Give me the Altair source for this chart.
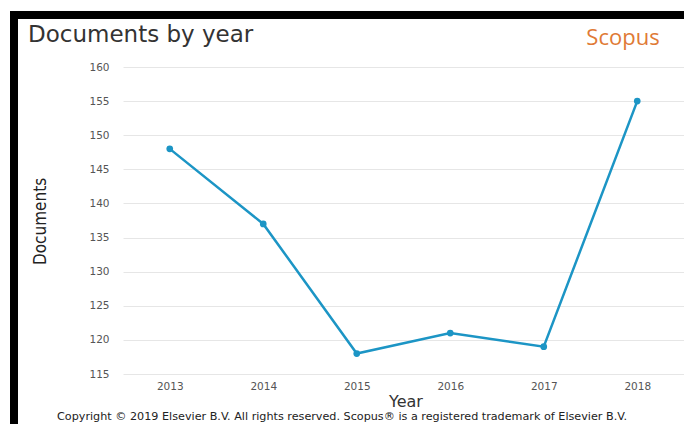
import altair as alt
import pandas as pd

years = ["2013", "2014", "2015", "2016", "2017", "2018"]
documents = [148, 137, 118, 121, 119, 155]
y_ticks = [115, 120, 125, 130, 135, 140, 145, 150, 155, 160]

title_text = "Documents by year"
brand_text = "Scopus"
copyright_text = ("Copyright \u00a9 2019 Elsevier B.V. All rights reserved. "
                  "Scopus\u00ae is a registered trademark of Elsevier B.V.")

df = pd.DataFrame({"Year": years, "Documents": documents})

LINE = "#1c95c5"
W, H = 561, 307

x_enc = alt.X(
    "Year:O",
    sort=years,
    scale=alt.Scale(type="point", padding=0.5),
    axis=alt.Axis(
        title="Year", labelAngle=0, labelFont="DejaVu Sans", labelFontSize=10.5,
        labelColor="#555555", labelPadding=7, ticks=False, domain=False, grid=False,
        labelOverlap=False,
        titleFont="DejaVu Sans", titleFontSize=16, titleFontWeight="normal",
        titleColor="#333333", titleX=W / 2 + 2, titleY=27, titleBaseline="middle",
        titleAlign="center",
    ),
)
y_enc = alt.Y(
    "Documents:Q",
    scale=alt.Scale(domain=[115, 160], nice=False, zero=False),
    axis=alt.Axis(
        title="Documents", values=y_ticks, tickCount=10, labelOverlap=False,
        labelFont="DejaVu Sans", labelFontSize=10.5,
        labelColor="#555555", labelPadding=14, ticks=False, domain=False,
        grid=True, gridColor="#e6e6e6", gridWidth=1,
        titleFont="Liberation Sans Narrow, DejaVu Sans Condensed, Roboto Condensed, sans-serif",
        titleFontSize=17, titleFontWeight="normal", titleColor="#222222",
        titleX=-83, titleY=154, titleAlign="center", titleBaseline="middle", titleAngle=270,
    ),
)

line = alt.Chart(df).mark_line(color=LINE, strokeWidth=2.5).encode(x=x_enc, y=y_enc)
pts = alt.Chart(df).mark_point(filled=True, color=LINE, size=45, opacity=1).encode(
    x="Year:O", y="Documents:Q")

one = alt.Data(values=[{"k": 1}])

title = alt.Chart(one).mark_text(
    text=title_text, font="DejaVu Sans", fontSize=23, color="#333333",
    align="left", baseline="alphabetic").encode(x=alt.value(-95), y=alt.value(-25))
brand = alt.Chart(one).mark_text(
    text=brand_text, font="Open Sans", fontSize=22, color="#e07a35",
    align="center", baseline="alphabetic").encode(x=alt.value(500), y=alt.value(-22))
copy = alt.Chart(one).mark_text(
    text=copyright_text, font="DejaVu Sans", fontSize=11.2, color="#222222",
    align="center", baseline="middle").encode(x=alt.value(219), y=alt.value(349.5))

top_bar = alt.Chart(one).mark_rect(color="black").encode(
    x=alt.value(-113), x2=alt.value(W), y=alt.value(-56), y2=alt.value(-48))
left_bar = alt.Chart(one).mark_rect(color="black").encode(
    x=alt.value(-113), x2=alt.value(-105), y=alt.value(-56), y2=alt.value(357))

chart = alt.layer(line, pts, title, brand, copy, top_bar, left_bar).properties(
    width=W, height=H,
    autosize=alt.AutoSizeParams(type="none"),
    padding={"left": 115, "top": 59, "right": 0, "bottom": 50},
    background="white",
).configure_view(stroke=None)

chart.save("out.html", embed_options={"renderer": "svg", "actions": False})
